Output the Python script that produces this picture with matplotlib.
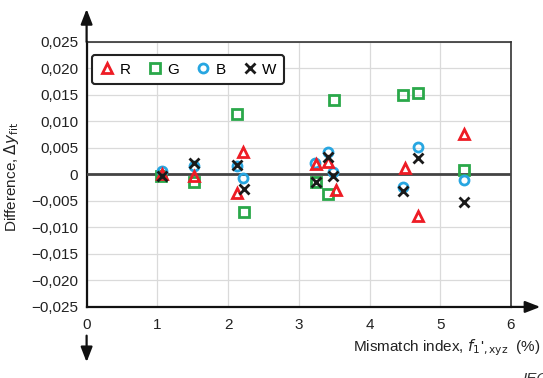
import numpy as np
import matplotlib.pyplot as plt
from matplotlib.ticker import FuncFormatter, MultipleLocator

plt.rcParams['font.family'] = ['Liberation Sans', 'DejaVu Sans']

# values (mismatch index in %, difference in y_fit)
r_x = [1.07, 1.52, 2.12, 2.21, 3.25, 3.41, 3.53, 4.50, 4.69, 5.34]
r_y = [0.0000, -0.0002, -0.0035, 0.0042, 0.0019, 0.0023, -0.0030, 0.0012, -0.0078, 0.0076]

g_x = [1.05, 1.52, 2.13, 2.22, 3.24, 3.41, 3.50, 4.48, 4.69, 5.33]
g_y = [-0.0003, -0.0015, 0.0114, -0.0071, -0.0014, -0.0036, 0.0141, 0.0150, 0.0154, 0.0008]

b_x = [1.07, 1.52, 2.12, 2.21, 3.23, 3.41, 3.48, 4.47, 4.69, 5.33]
b_y = [0.0006, 0.0015, 0.0015, -0.0007, 0.0021, 0.0043, 0.0004, -0.0023, 0.0052, -0.0011]

w_x = [1.07, 1.52, 2.12, 2.22, 3.24, 3.42, 3.48, 4.48, 4.69, 5.34]
w_y = [-0.0002, 0.0021, 0.0017, -0.0028, -0.0015, 0.0033, -0.0002, -0.0031, 0.0031, -0.0052]

series = [
    ("G", g_x, g_y, "s", "#2aa84a"),
    ("B", b_x, b_y, "o", "#27a6e1"),
    ("R", r_x, r_y, "^", "#ee1c25"),
    ("W", w_x, w_y, "x", "#1a1a1a"),
]
legend_order = ["R", "G", "B", "W"]

fig = plt.figure(figsize=(5.43, 3.78), dpi=100)
ax = fig.add_axes([0.1595, 0.188, 0.7815, 0.701])

handles = {}
for i, (name, xs, ys, mk, col) in enumerate(series):
    if mk == "x":
        h, = ax.plot(xs, ys, ls="none", marker=mk, ms=6.5, mew=2, color=col,
                     label=name, zorder=4 + i)
    else:
        h, = ax.plot(xs, ys, ls="none", marker=mk, ms=6.5, mew=2, mfc="none",
                     mec=col, label=name, zorder=4 + i)
    handles[name] = h

ax.set_xlim(0, 6)
ax.set_ylim(-0.025, 0.025)
ax.xaxis.set_major_locator(MultipleLocator(1))
ax.yaxis.set_major_locator(MultipleLocator(0.005))


def comma_fmt(v, pos):
    if abs(v) < 1e-9:
        return "0"
    return f"{v:.3f}".replace(".", ",").replace("-", "\u2212")


ax.yaxis.set_major_formatter(FuncFormatter(comma_fmt))
ax.tick_params(length=0, labelsize=11, colors="#222222")
ax.tick_params(axis="x", pad=8)
ax.tick_params(axis="y", pad=6)

ax.grid(True, color="#dadada", lw=0.9)
ax.set_axisbelow(True)
ax.axhline(0, color="#444444", lw=2, zorder=3)

for side in ["left", "bottom"]:
    ax.spines[side].set_color("#111111")
    ax.spines[side].set_linewidth(1.6)
for side in ["top", "right"]:
    ax.spines[side].set_color("#333333")
    ax.spines[side].set_linewidth(1.2)

# axis arrows
arrow = dict(arrowstyle="-|>,head_width=0.35,head_length=0.9", color="#111111",
             lw=1.6, shrinkA=0, shrinkB=0)
ax.annotate("", xy=(0.1595, 0.976), xytext=(0.1595, 0.889),
            xycoords="figure fraction", textcoords="figure fraction", arrowprops=arrow)
ax.annotate("", xy=(0.1595, 0.042), xytext=(0.1595, 0.112),
            xycoords="figure fraction", textcoords="figure fraction", arrowprops=arrow)
ax.annotate("", xy=(0.995, 0.188), xytext=(0.941, 0.188),
            xycoords="figure fraction", textcoords="figure fraction", arrowprops=arrow)

fig.text(0.996, 0.079, r"Mismatch index, $\mathit{f}_{1}$'$_{,\mathrm{xyz}}$  (%)",
         ha="right", va="center", fontsize=11, color="#222222")
fig.text(0.022, 0.532, r"Difference, $\Delta\mathit{y}_{\mathrm{fit}}$", rotation=90,
         ha="center", va="center", fontsize=11, color="#222222")
fig.text(0.962, -0.02, "IEC", ha="left", va="bottom", fontsize=11,
         style="italic", color="#333333")

leg = ax.legend([handles[n] for n in legend_order], legend_order, ncol=4,
                loc="upper left", bbox_to_anchor=(0.0127, 0.951), borderaxespad=0,
                fontsize=11, frameon=True, fancybox=True, edgecolor="#222222",
                handlelength=1.0, handletextpad=0.3, columnspacing=1.1,
                borderpad=0.5)
leg.get_frame().set_linewidth(1.5)
leg.get_frame().set_alpha(1)

fig.savefig("out.png", dpi=100)
